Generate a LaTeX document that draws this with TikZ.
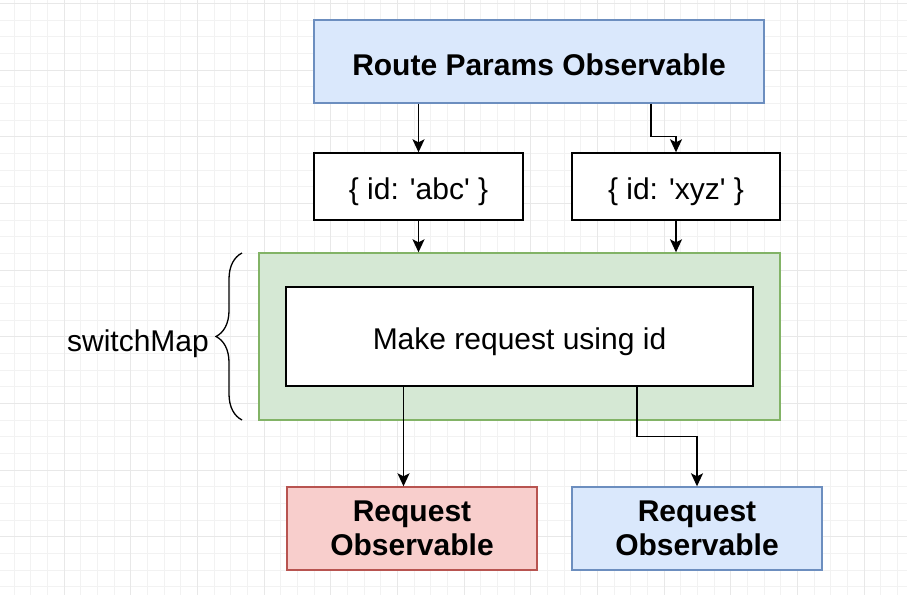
\documentclass[tikz,border=0pt]{standalone}
\usepackage{fontspec}
\setmainfont{Liberation Sans}
\usetikzlibrary{arrows.meta,decorations.pathreplacing}

\definecolor{blueFill}{HTML}{DAE8FC}
\definecolor{blueLine}{HTML}{6C8EBF}
\definecolor{greenFill}{HTML}{D5E8D4}
\definecolor{greenLine}{HTML}{82B366}
\definecolor{redFill}{HTML}{F8CECC}
\definecolor{redLine}{HTML}{B85450}

\begin{document}
\begin{tikzpicture}[x=1pt, y=-1pt, >={Stealth[length=13pt,width=12pt,inset=3pt]},
  every node/.style={align=center, inner sep=0pt, font=\fontsize{30}{34}\selectfont},
  oneline/.style={text height=26pt, text depth=0pt},
  box/.style={draw, line width=1.4pt, fill=white, oneline},
  obsbox/.style={draw, line width=1.4pt, font=\fontsize{30}{34}\selectfont\bfseries},
  conn/.style={->, line width=1.5pt}]
\useasboundingbox (0,0) rectangle (907,595);
\fill[white] (0,0) rectangle (907,595);
\foreach \i in {0,...,53} \draw[black!5, line width=0.8pt] (14+\i*16.667,0) -- (14+\i*16.667,595);
\foreach \i in {0,...,35} \draw[black!5, line width=0.8pt] (0,3.33+\i*16.667) -- (907,3.33+\i*16.667);
\foreach \i in {0,...,12} \draw[black!9, line width=0.8pt] (64+\i*66.667,0) -- (64+\i*66.667,595);
\foreach \i in {0,...,8} \draw[black!9, line width=0.8pt] (0,3.33+\i*66.667) -- (907,3.33+\i*66.667);

\node[obsbox, oneline, text height=28pt, draw=blueLine, fill=blueFill, minimum width=450pt, minimum height=83pt] (route) at (539,61.5) {Route Params Observable};
\node[box, minimum width=209pt, minimum height=67pt] (abc) at (418.5,186.5) {\{ id: \textquotesingle abc\textquotesingle\ \}};
\node[box, minimum width=208pt, minimum height=67pt] (xyz) at (676,186.5) {\{ id: \textquotesingle xyz\textquotesingle\ \}};
\node[draw=greenLine, fill=greenFill, line width=1.4pt, minimum width=521pt, minimum height=167pt] (green) at (519.5,336.5) {};
\node[box, minimum width=467pt, minimum height=99pt] (make) at (519.5,336.5) {Make request using id};
\node[obsbox, draw=redLine, fill=redFill, minimum width=250pt, minimum height=83pt] (req1) at (412,528.5) {Request\\Observable};
\node[obsbox, draw=blueLine, fill=blueFill, minimum width=250pt, minimum height=83pt] (req2) at (697,528.5) {Request\\Observable};
\node[oneline, anchor=east] (switch) at (209,338) {switchMap};

\draw[line width=1.3pt, decorate, decoration={brace, amplitude=26pt}] (242,420) -- (242,253);

\draw[conn] (route.south -| abc.north) -- (abc.north);
\draw[conn] ([xshift=112pt]route.south) |- ([yshift=16pt]xyz.north) -- (xyz.north);
\draw[conn] (abc.south) -- (abc.south |- green.north);
\draw[conn] (xyz.south) -- (xyz.south |- green.north);
\draw[conn] ([xshift=-116pt]make.south) -- ([xshift=-116pt]make.south |- req1.north);
\draw[conn] ([xshift=117.5pt]make.south) |- ([yshift=50pt]req2.north) -- (req2.north);
\end{tikzpicture}
\end{document}
